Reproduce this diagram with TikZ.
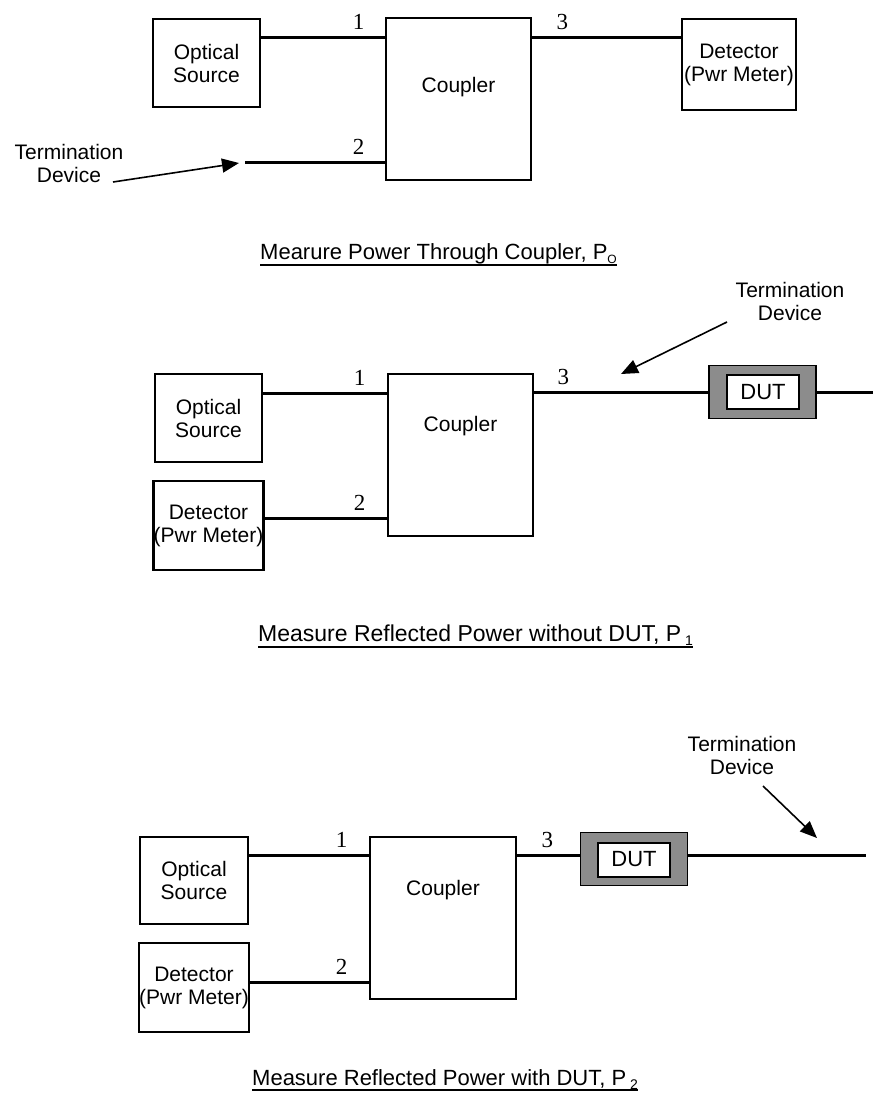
\documentclass[tikz,border=0pt]{standalone}
\usepackage{fontspec}
\setmainfont{Liberation Sans}
\newfontfamily\portfont{Liberation Serif}
\usetikzlibrary{arrows.meta,calc}

\begin{document}
\begin{tikzpicture}[x=1pt,y=-1pt,font=\fontsize{21}{23}\selectfont,
  box/.style={draw,line width=2.6pt,inner sep=0pt,align=center},
  fibre/.style={line width=3.2pt},
  pointer/.style={line width=1.6pt,-{Triangle[length=17pt,width=14pt]}},
  portlbl/.style={font=\portfont\fontsize{23}{23}\selectfont,anchor=base,inner sep=0pt},
  dutcase/.style={draw,line width=1.4pt,fill=black!45,minimum width=107pt,minimum height=53pt,inner sep=0pt},
  dutbox/.style={draw,line width=2pt,fill=white,minimum width=72pt,minimum height=34pt,inner sep=0pt,font=\fontsize{22}{22}\selectfont},
  caption/.style={anchor=base west,inner sep=0pt,font=\fontsize{22}{24}\selectfont}]
  \useasboundingbox (0,0) rectangle (873,1093);

  % --- through power, P_O
  \node[box,minimum width=107pt,minimum height=88pt] (src1) at (206.5,63) {Optical\\Source};
  \node[box,minimum width=145pt,minimum height=162pt] (cpl1) at (458.5,99) {};
  \node (cpl1txt) at (458.5,87) {Coupler};
  \node[box,minimum width=114pt,minimum height=91pt] (det1) at (739,64.5) {Detector\\(Pwr Meter)};
  \coordinate (p1a) at ([yshift=-21pt]cpl1.north west);
  \coordinate (p2a) at ([yshift=19pt]cpl1.south west);
  \coordinate (p3a) at ([yshift=-21pt]cpl1.north east);
  \coordinate (end1) at (245,0);
  \draw[fibre] (src1.east |- p1a) -- (p1a);
  \draw[fibre] (end1 |- p2a) -- (p2a);
  \draw[fibre] (p3a) -- (p3a -| det1.west);
  \node[portlbl] (n1a) at ([xshift=-26pt,yshift=8pt]p1a) {1};
  \node[portlbl] (n2a) at ([xshift=-26pt,yshift=8pt]p2a) {2};
  \node[portlbl] (n3a) at ([xshift=30pt,yshift=8pt]p3a) {3};
  \node[align=center] (term1) at (69,163) {Termination\\Device};
  \coordinate (tail1) at (113,182);
  \coordinate (tip1) at (239,163);
  \draw[pointer] (tail1) -- (tip1);
  \node[caption] (cap1) at (260,259.5) {Mearure Power Through Coupler, P\raisebox{-4pt}{\fontsize{12}{12}\selectfont O}};
  \draw[line width=1.8pt] ([yshift=-5.5pt]cap1.base west) -- ([yshift=-5.5pt]cap1.base east);

  % --- reflected power without DUT, P_1
  \node[box,minimum width=107pt,minimum height=88pt] (src2) at (208.5,418) {Optical\\Source};
  \node[box,minimum width=107pt,minimum height=89pt] (det2) at (208.5,525.5) {Detector\\(Pwr Meter)};
  \node[box,minimum width=145pt,minimum height=162pt] (cpl2) at (460.5,455) {};
  \node (cpl2txt) at (460.5,426) {Coupler};
  \node[dutcase] (case2) at (762.5,392) {};
  \node[dutbox] (dut2) at (763,392) {DUT};
  \coordinate (p1b) at ([yshift=-21pt]cpl2.north west);
  \coordinate (p2b) at ([yshift=19pt]cpl2.south west);
  \coordinate (p3b) at ([yshift=-20pt]cpl2.north east);
  \coordinate (end2) at (873,0);
  \draw[fibre] (src2.east |- p1b) -- (p1b);
  \draw[fibre] (det2.east |- p2b) -- (p2b);
  \draw[fibre] (p3b) -- (p3b -| case2.west);
  \draw[fibre] (p3b -| case2.east) -- (p3b -| end2);
  \node[portlbl] (n1b) at ([xshift=-27pt,yshift=8pt]p1b) {1};
  \node[portlbl] (n2b) at ([xshift=-27pt,yshift=8pt]p2b) {2};
  \node[portlbl] (n3b) at ([xshift=29pt,yshift=8pt]p3b) {3};
  \node[align=center] (term2) at (790,301.5) {Termination\\Device};
  \coordinate (tail2) at (727,322);
  \coordinate (tip2) at (621,374);
  \draw[pointer] (tail2) -- (tip2);
  \node[caption,font=\fontsize{23}{25}\selectfont] (cap2) at (258,641.5) {Measure Reflected Power without DUT, P\,\raisebox{-4pt}{\fontsize{14}{14}\selectfont 1}};
  \draw[line width=1.8pt] ([yshift=-5.5pt]cap2.base west) -- ([yshift=-5.5pt]cap2.base east);

  % --- reflected power with DUT, P_2
  \node[box,minimum width=108pt,minimum height=87pt] (src3) at (194,880.5) {Optical\\Source};
  \node[box,minimum width=108pt,minimum height=89pt] (det3) at (194,987.5) {Detector\\(Pwr Meter)};
  \node[box,minimum width=146pt,minimum height=162pt] (cpl3) at (443,918) {};
  \node (cpl3txt) at (443,890) {Coupler};
  \node[dutcase] (case3) at (634,859) {};
  \node[dutbox] (dut3) at (634,859.5) {DUT};
  \coordinate (p1c) at ([yshift=-20pt]cpl3.north west);
  \coordinate (p2c) at ([yshift=18pt]cpl3.south west);
  \coordinate (p3c) at ([yshift=-20pt]cpl3.north east);
  \coordinate (end3) at (866,0);
  \draw[fibre] (src3.east |- p1c) -- (p1c);
  \draw[fibre] (det3.east |- p2c) -- (p2c);
  \draw[fibre] (p3c) -- (p3c -| case3.west);
  \draw[fibre] (p3c -| case3.east) -- (p3c -| end3);
  \node[portlbl] (n1c) at ([xshift=-27pt,yshift=8pt]p1c) {1};
  \node[portlbl] (n2c) at ([xshift=-27pt,yshift=8pt]p2c) {2};
  \node[portlbl] (n3c) at ([xshift=30pt,yshift=8pt]p3c) {3};
  \node[align=center] (term3) at (742,755.5) {Termination\\Device};
  \coordinate (tail3) at (763,786);
  \coordinate (tip3) at (817,838);
  \draw[pointer] (tail3) -- (tip3);
  \node[caption] (cap3) at (252,1085) {Measure Reflected Power with DUT, P\,\raisebox{-4pt}{\fontsize{14}{14}\selectfont 2}};
  \draw[line width=1.8pt] ([yshift=-5pt]cap3.base west) -- ([yshift=-5pt]cap3.base east);
\end{tikzpicture}
\end{document}
